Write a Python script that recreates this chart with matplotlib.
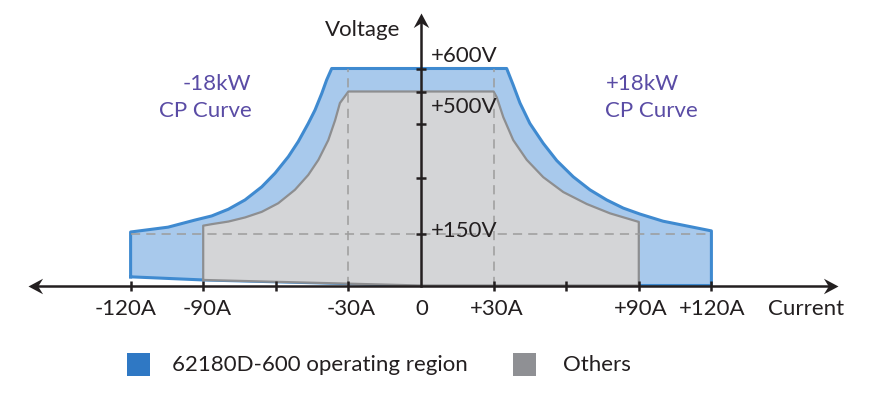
import matplotlib
matplotlib.use("Agg")
import matplotlib.pyplot as plt
import numpy as np
from matplotlib.path import Path
from matplotlib.patches import Rectangle

plt.rcParams["font.family"] = ["Lato", "DejaVu Sans"]

# boundary points: current (A), voltage (V)
blue_left_i = [-120, -104.5, -93.4, -86.5, -79.6, -72.7, -65.8, -60.3, -54.8, -50.7, -46.6, -43.8, -41.0, -39.0, -36.9]
blue_left_v = [154, 167, 186, 197, 215, 240, 275, 312, 358, 400, 450, 471, 497, 550, 600]
blue_right_i = [35.4, 38.1, 40.9, 45.0, 50.5, 56.1, 62.9, 69.8, 76.7, 83.6, 90.5, 100, 120]
blue_right_v = [600, 528, 482, 450, 395, 347, 302, 267, 240, 218, 202, 183, 157]
gray_left_i = [-90, -86.5, -79.6, -72.7, -65.8, -59.0, -52.1, -46.6, -42.4, -38.3, -35.5, -33.5, -30]
gray_left_v = [171, 175, 182, 193, 208, 231, 267, 307, 349, 404, 455, 482, 500]
gray_right_i = [30, 31.3, 34.0, 38.1, 43.7, 50.5, 58.8, 68.5, 78.1, 90]
gray_right_v = [500, 491, 460, 404, 349, 301, 261, 229, 204, 181]
# slight slope of the lower edge in the left half
bottom_i = [-120, -90, 0]
bottom_v = [25, 16, 0]

x_tick_pos = [-120, -90, -60, -30, 30, 60, 90, 120]
x_label_pos = [-120, -90, -30, 0, 30, 90, 120]
x_labels = ["-120A", "-90A", "-30A", "0", "+30A", "+90A", "+120A"]
y_tick_pos = [150, 300, 450, 500, 600]
y_label_pos = [600, 500, 150]
y_labels = ["+600V", "+500V", "+150V"]
ref_current = 30
ref_voltage = 150
legend_labels = ["62180D-600 operating region", "Others"]

BLUE_FILL = "#a8c9ec"
BLUE_LINE = "#3f8ad0"
GRAY_FILL = "#d4d5d7"
GRAY_LINE = "#8d8e90"
DARK = "#231f20"
PURPLE = "#5a4ca5"

# the drawing is schematic: the voltage axis is not to scale
v_knots = [-1000, 0, 150, 300, 450, 500, 600, 1600]
h_knots = [-346.7, 0, 52, 108, 162, 194, 217, 447]


def fwd(v):
    return np.interp(v, v_knots, h_knots)


def inv(h):
    return np.interp(h, h_knots, v_knots)


def arrow_marker(angle):
    verts = np.array([[0, 0], [-15, -8], [-10, 0], [-15, 8], [0, 0]], float)
    a = np.deg2rad(angle)
    rot = np.array([[np.cos(a), -np.sin(a)], [np.sin(a), np.cos(a)]])
    verts = verts @ rot.T
    codes = [Path.MOVETO, Path.LINETO, Path.LINETO, Path.LINETO, Path.CLOSEPOLY]
    return Path(verts, codes)


fig = plt.figure(figsize=(8.86, 3.99), dpi=100)
ax = fig.add_axes([0, 0, 1, 1])
ax.set_yscale("function", functions=(fwd, inv))
px = 2.42  # pixels per amp
ax.set_xlim(-421 / px, 465 / px)
ax.set_ylim(inv(285.5 - 399), inv(285.5))
ax.axis("off")

# 62180D-600 region
bi = [bottom_i[0]] + blue_left_i + blue_right_i + [120, 0, bottom_i[1], bottom_i[0]]
bv = [bottom_v[0]] + blue_left_v + blue_right_v + [0, 0, bottom_v[1], bottom_v[0]]
ax.fill(bi, bv, color=BLUE_FILL, lw=0, zorder=1)
ax.plot(bi, bv, color=BLUE_LINE, lw=2.2, solid_joinstyle="round", zorder=1.5)

# other models
gi = [bottom_i[1]] + gray_left_i + gray_right_i + [90, 0, bottom_i[1]]
gv = [bottom_v[1]] + gray_left_v + gray_right_v + [0, 0, bottom_v[1]]
ax.fill(gi, gv, color=GRAY_FILL, lw=0, zorder=2)
ax.plot(gi, gv, color=GRAY_LINE, lw=1.6, solid_joinstyle="round", zorder=2.5)

# dashed guides
dash = dict(color="#9c9c9c", lw=1.1, dashes=(6, 4), zorder=3)
ax.plot([-120, 120], [ref_voltage, ref_voltage], **dash)
for c in (-ref_current, ref_current):
    ax.plot([c, c], [0, 600], **dash)

# axes with arrows
x_tip_l, x_tip_r, y_tip = -162.4, 172.3, inv(272.5)
ax.plot([x_tip_l + 4, x_tip_r - 4], [0, 0], color=DARK, lw=1.8, zorder=4)
ax.plot([0, 0], [0, inv(266)], color=DARK, lw=1.8, zorder=4)
ax.plot([x_tip_r], [0], marker=arrow_marker(0), ms=21, color=DARK, mew=0, zorder=5)
ax.plot([x_tip_l], [0], marker=arrow_marker(180), ms=21, color=DARK, mew=0, zorder=5)
ax.plot([0], [y_tip], marker=arrow_marker(90), ms=21, color=DARK, mew=0, zorder=5)
ax.plot(x_tick_pos, [0] * len(x_tick_pos), ls="none", marker="|", ms=7, mew=1.8, color=DARK, zorder=5)
ax.plot([0] * len(y_tick_pos), y_tick_pos, ls="none", marker="_", ms=7, mew=1.8, color=DARK, zorder=5)

fs = 16
label_shift = [-5, 4, 3, 1, 3, 2, 1]
for x, lab, sh in zip(x_label_pos, x_labels, label_shift):
    ax.annotate(lab, (x, 0), xytext=(sh, -29.5), textcoords="offset pixels",
                ha="center", va="baseline", fontsize=fs, color=DARK)
ax.annotate("Current", (120, 0), xytext=(57, -29.5), textcoords="offset pixels",
            ha="left", va="baseline", fontsize=fs, color=DARK)
for y, lab, dy in zip(y_label_pos, y_labels, [6.5, -21.5, -3.5]):
    ax.annotate(lab, (0, y), xytext=(10, dy), textcoords="offset pixels",
                ha="left", va="baseline", fontsize=fs, color=DARK)
ax.annotate("Voltage", (0, 600), xytext=(-21, 32.5), textcoords="offset pixels",
            ha="right", va="baseline", fontsize=fs, color=DARK)

for lab, dy in (("-18kW", -21.5), ("CP Curve", -48.5)):
    ax.annotate(lab, (-120, 600), xytext=(121, dy), textcoords="offset pixels",
                ha="right", va="baseline", fontsize=fs, color=PURPLE)
for lab, dy in (("+18kW", -21.5), ("CP Curve", -48.5)):
    ax.annotate(lab, (120, 600), xytext=(-106, dy), textcoords="offset pixels",
                ha="left", va="baseline", fontsize=fs, color=PURPLE)

# legend
W, H = 886, 399
for (x0, col), lab, tx in zip([(127, "#2f78c4"), (513, "#8f9094")], legend_labels, [172, 563]):
    fig.patches.append(Rectangle((x0 / W, (H - 376) / H), 23 / W, 23 / H,
                                 transform=fig.transFigure, color=col, lw=0))
    fig.text(tx / W, (H - 371) / H, lab, ha="left", va="baseline", fontsize=fs, color=DARK)

fig.savefig("out.png", dpi=100)
